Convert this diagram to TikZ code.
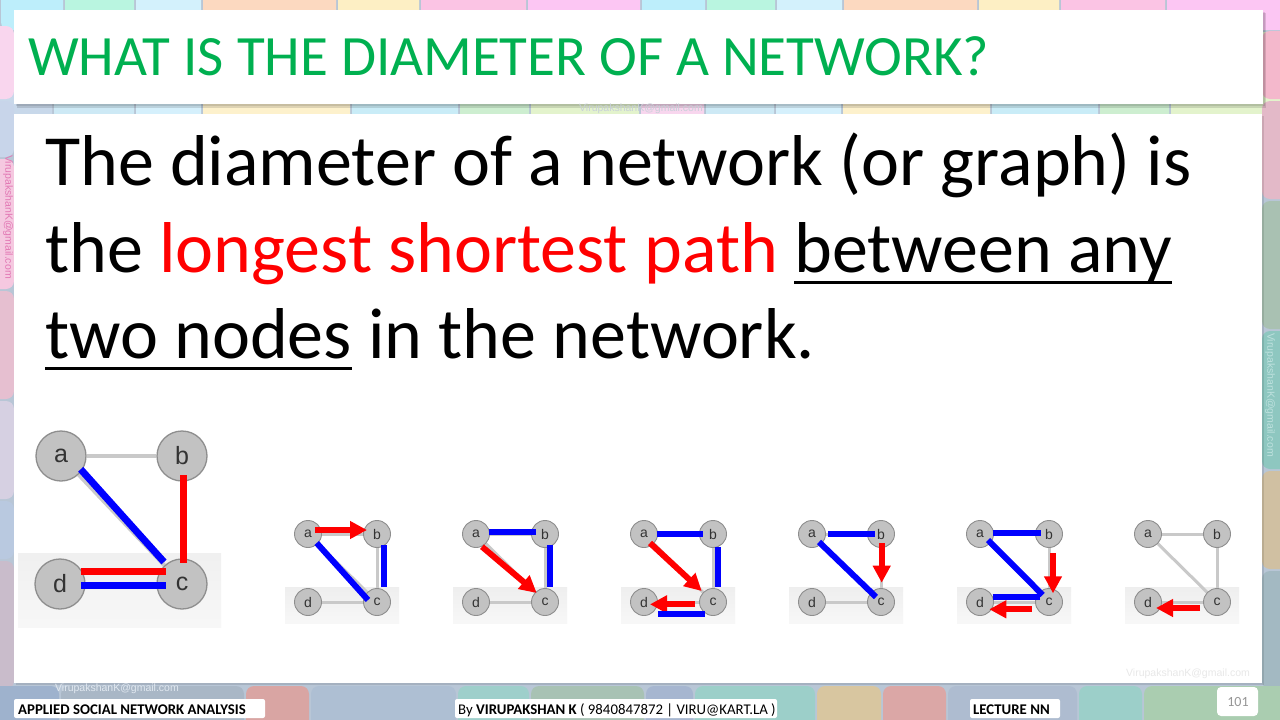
\documentclass[tikz,border=0pt]{standalone}
\usepackage{fontspec}
\setmainfont{Carlito}
\newfontfamily\arialf{Liberation Sans}
\usetikzlibrary{arrows.meta,calc}
\pgfdeclarelayer{back}
\pgfdeclarelayer{edges}
\pgfsetlayers{back,edges,main}
\definecolor{titlegreen}{HTML}{00B050}
\definecolor{pptred}{HTML}{FF0000}
\definecolor{eblue}{HTML}{0000FF}
\definecolor{nodefill}{HTML}{C2C2C2}
\definecolor{nodeline}{HTML}{8E8E8E}
\definecolor{gedgec}{HTML}{C9C9C9}
\definecolor{labelc}{HTML}{333333}
\newcommand\myul[1]{\setbox0\hbox{#1}\rlap{\rule[-12pt]{\wd0}{3.5pt}}\box0\relax}
\tikzset{
  tile/.style={rounded corners=8pt},
  gnode/.style={circle, fill=nodefill, draw=nodeline, line width=0.9pt, minimum size=27pt, inner sep=0pt, text=labelc, font=\arialf\fontsize{14}{14}\selectfont},
  bignode/.style={gnode, minimum size=50pt, line width=1.3pt, font=\arialf\fontsize{25}{25}\selectfont},
  grayedge/.style={draw=gedgec, line width=3pt},
  blueedge/.style={draw=eblue, line width=6pt},
  redarrow/.style={draw=pptred, line width=6pt, -{Triangle[length=17pt,width=17pt]}},
  bodytext/.style={anchor=base west, inner sep=0pt, font=\fontsize{72}{86}\selectfont},
  foot/.style={fill=white, rounded corners=2pt, inner sep=0pt},
  foottext/.style={anchor=base west, inner sep=0pt, font=\fontsize{14.8}{15}\selectfont},
  wmark/.style={font=\arialf\fontsize{10.5}{11}\selectfont, inner sep=0pt}
}
\newcommand\mkgraph[2]{%
  \begin{pgfonlayer}{back}
    \fill[top color=gray!13, bottom color=gray!6] (#2-23,587) rectangle (#2+91,623);
  \end{pgfonlayer}
  \node[gnode] (#1a) at (#2,534) {a};
  \node[gnode] (#1b) at (#2+69,534) {b};
  \node[gnode] (#1d) at (#2,602) {d};
  \node[gnode] (#1c) at (#2+69,602) {c};
  \begin{pgfonlayer}{edges}
    \draw[grayedge] (#1a) -- (#1b);
    \draw[grayedge] (#1b) -- (#1c);
    \draw[grayedge] (#1a) -- (#1c);
    \draw[grayedge] (#1d) -- (#1c);
  \end{pgfonlayer}
}
\begin{document}
\begin{tikzpicture}[x=1pt,y=-1pt]
\useasboundingbox (0,0) rectangle (1280,720);
\begin{pgfonlayer}{back}
  % base background
  \fill[color={rgb,255:red,184;green,198;blue,214}] (0,0) rectangle (1280,720);
  % top row tiles
  \foreach \xa/\xb/\c in {0/64/BDEEFB,64/135/B9F5E0,135/202/D3F1FC,202/337/FCD9C0,337/420/FDEFC4,420/527/FBC4E4,527/641/FCC6F3,641/706/BDEEFB,706/776/B9F5E0,776/843/D3F1FC,843/978/FCD9C0,978/1060/FDEFC4,1060/1166/FBC4E4,1166/1290/FCC6F3}{
    \definecolor{tc}{HTML}{\c}
    \fill[tile, tc] (\xa+1,-20) rectangle (\xb-1,30);
  }
  % second row tiles (visible in gap)
  \foreach \xa/\xb/\c in {-10/53/C8D8EA,53/135/CDE9F5,135/202/D5F0FC,202/351/FDF1CC,351/459/C9ECF7,459/530/CDEED0,530/640/E3F3CC,640/705/F8D6EE,705/775/CDE9F5,775/842/D5F0FC,842/991/FDF1CC,991/1099/C9ECF7,1099/1170/CDEED0,1170/1290/E3F3CC}{
    \definecolor{tc}{HTML}{\c}
    \fill[tile, tc] (\xa+1,32) rectangle (\xb-1,150);
  }
  % left strip
  \foreach \ya/\yb/\c in {25/100/F9D6EE,100/158/C8D5EA,158/290/F5C8E0,290/400/E6BFD0,400/500/D6D0E2,500/560/B9C9E0,560/690/C9BCCB}{
    \definecolor{tc}{HTML}{\c}
    \fill[tile, tc] (-20,\ya+1) rectangle (14,\yb-1);
  }
  % right strip
  \foreach \ya/\yb/\c in {30/100/F4B8CC,100/200/E3B9C8,200/330/A9C1B2,330/470/8EC7C0,470/570/D0C0A2,570/690/A3B9C2}{
    \definecolor{tc}{HTML}{\c}
    \fill[tile, tc] (1262,\ya+1) rectangle (1300,\yb-1);
  }
  % bottom row
  \foreach \xa/\xb/\c in {-10/60/9EB2CD,60/245/A9B7C6,245/310/D9A5A3,310/457/AEBFD3,457/530/9ECFCB,530/645/A8C2B4,645/694/A6B6D0,694/816/9CCFC9,816/882/D8C6A0,882/947/DBA7A6,947/1078/AEBCD0,1078/1143/9CCFC9,1143/1290/AACDB0}{
    \definecolor{tc}{HTML}{\c}
    \fill[tile, tc] (\xa+1,686) rectangle (\xb-1,740);
  }
  % title box with shadow
  \fill[black, opacity=0.12] (17,13) rectangle (1266,108);
  \fill[black, opacity=0.10] (16,12) rectangle (1265,106);
  \fill[white] (14,10) rectangle (1263,104);
  % body box
  \fill[black, opacity=0.10] (16,116) rectangle (1264,685);
  \fill[white] (14,114) rectangle (1262,683);
  % big graph image box
  \fill[white] (18,425) rectangle (221,627);
  \fill[top color=gray!12, bottom color=gray!6] (18,553) rectangle (221,627);
\end{pgfonlayer}

% title
\node[anchor=base west, inner sep=0pt, text=titlegreen, font=\fontsize{57}{58}\selectfont] (title) at (28,75) {WHAT IS THE DIAMETER OF A NETWORK?};

% body text
\node[bodytext] (l1) at (45,185) {The diameter of a network (or graph) is};
\node[bodytext] (l2) at (45,272) {the \textcolor{pptred}{longest shortest path} \myul{between any}};
\node[bodytext] (l3) at (45,358) {\myul{two nodes} in the network.};

% big graph
\node[bignode] (A) at (61,456) {a};
\node[bignode] (B) at (182,456) {b};
\node[bignode] (D) at (60,584) {d};
\node[bignode] (C) at (182,584) {c};
\begin{pgfonlayer}{edges}
  \draw[draw=gedgec, line width=4pt] (A) -- (B);
  \draw[draw=gedgec, line width=4pt] (A) -- (C);
\end{pgfonlayer}
\draw[draw=eblue, line width=7pt] ($(A)+(19.7,13.3)$) -- ($(C)+(-18,-22)$);
\draw[draw=pptred, line width=6.5pt] ($(B)+(1.3,19)$) -- ($(C)+(1.3,-21)$);
\draw[draw=pptred, line width=6.5pt] ($(D)+(21,-12.3)$) -- ($(C)+(-16,-12.3)$);
\draw[draw=eblue, line width=6.5pt] ($(D)+(21,1.7)$) -- ($(C)+(-16,1.7)$);

% small graphs
\mkgraph{p}{308}
\draw[redarrow] ($(pa)+(7,-4)$) -- ($(pb)+(-10,-4)$);
\draw[blueedge] ($(pa)+(8.7,9)$) -- ($(pc)+(-9,-2)$);
\draw[blueedge, line width=5.5pt] ($(pb)+(7,11)$) -- ($(pc)+(7,-15)$);

\mkgraph{q}{476}
\draw[blueedge] ($(qa)+(13,-2)$) -- ($(qb)+(-9,-2)$);
\draw[redarrow] ($(qa)+(6,12.7)$) -- ($(qc)+(-8.3,-9)$);
\draw[blueedge, line width=5.5pt] ($(qb)+(5,11)$) -- ($(qc)+(5,-15)$);

\mkgraph{r}{644}
\draw[blueedge] ($(ra)+(12.7,0)$) -- ($(rb)+(-10,0)$);
\draw[redarrow] ($(ra)+(6,9)$) -- ($(rc)+(-11.3,-11)$);
\draw[blueedge, line width=5.5pt] ($(rb)+(5,12.7)$) -- ($(rc)+(5,-15)$);
\draw[redarrow] ($(rc)+(-18,2.3)$) -- ($(rd)+(6,2.3)$);
\draw[blueedge] ($(rd)+(14,12)$) -- ($(rc)+(-8,12)$);

\mkgraph{s}{812}
\draw[blueedge] ($(sa)+(16,0)$) -- ($(sb)+(-6,0)$);
\draw[blueedge] ($(sa)+(7,8)$) -- ($(sc)+(-5,-5)$);
\draw[redarrow] ($(sb)+(0.7,9)$) -- ($(sc)+(0.7,-19.3)$);

\mkgraph{t}{980}
\draw[blueedge] ($(ta)+(13,-1)$) -- ($(tb)+(-8.3,-1)$);
\draw[blueedge] ($(ta)+(8,6)$) -- ($(tc)+(-6.3,-7)$);
\draw[blueedge] ($(td)+(12.7,-4.7)$) -- ($(tc)+(-9,-4.7)$);
\draw[redarrow] ($(tb)+(4,19.3)$) -- ($(tc)+(4,-8.7)$);
\draw[redarrow] ($(tc)+(-17.3,7.3)$) -- ($(td)+(9.3,7.3)$);

\mkgraph{u}{1148}
\draw[redarrow] ($(uc)+(-17,6)$) -- ($(ud)+(8,6)$);

% watermarks
\node[wmark, text={rgb,255:red,200;green,208;blue,216}] (wm1) at (641,109) {VirupakshanK@gmail.com};
\node[wmark, text={rgb,255:red,225;green,232;blue,240}] (wm2) at (117,689) {VirupakshanK@gmail.com};
\node[wmark, text={rgb,255:red,232;green,232;blue,232}] (wm3) at (1188,674) {VirupakshanK@gmail.com};
\node[wmark, text={rgb,255:red,226;green,120;blue,180}, rotate=-90] (wm4) at (8,217) {VirupakshanK@gmail.com};
\node[wmark, text={rgb,255:red,190;green,225;blue,222}, rotate=-90] (wm5) at (1270,395) {VirupakshanK@gmail.com};

% footer
\fill[foot] (14,699) rectangle (265,718);
\node[foottext] (f1) at (18,714) {\textbf{APPLIED SOCIAL NETWORK ANALYSIS}};
\fill[foot] (455,699) rectangle (777,718);
\node[foottext] (f2) at (458,714) {By \textbf{VIRUPAKSHAN K} ( 9840847872 | VIRU@KART.LA )};
\fill[foot] (970,699) rectangle (1060,718);
\node[foottext] (f3) at (973,714) {\textbf{LECTURE NN}};
\fill[white, rounded corners=4pt] (1217,687) rectangle (1258,716);
\node[inner sep=0pt, text={rgb,255:red,150;green,150;blue,150}, font=\fontsize{14}{14}\selectfont] (pg) at (1238,702) {101};
\end{tikzpicture}
\end{document}
